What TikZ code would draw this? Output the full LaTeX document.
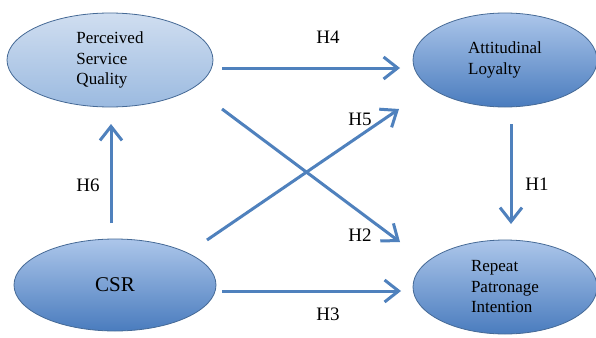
\documentclass[tikz,border=0pt]{standalone}
\usepackage{fontspec}
\setmainfont{Liberation Serif}
\usetikzlibrary{arrows.meta,shapes.geometric}
\definecolor{edgeblue}{RGB}{70,106,150}
\definecolor{linkblue}{RGB}{79,129,189}
\definecolor{paletop}{RGB}{208,222,240}
\definecolor{palebot}{RGB}{155,186,224}
\definecolor{deeptop}{RGB}{172,198,234}
\definecolor{deepbot}{RGB}{74,124,190}
\tikzset{
  construct/.style={ellipse,draw=edgeblue,line width=0.8pt,align=left,
    font=\fontsize{17}{20.5}\selectfont,inner sep=0pt},
  pale/.style={construct,top color=paletop,bottom color=palebot},
  deep/.style={construct,top color=deeptop,bottom color=deepbot},
  link/.style={draw=linkblue,line width=3pt,
    -{Straight Barb[length=14pt,width=22pt,line width=3pt]}},
  hyp/.style={font=\fontsize{19}{22}\selectfont}
}
\begin{document}
\begin{tikzpicture}[x=1pt,y=-1pt]
  \useasboundingbox[fill=white] (0,0) rectangle (596,337);
  \node[pale,minimum width=206pt,minimum height=94pt] (PSQ) at (110,60) {Perceived\\Service\\Quality};
  \node[deep,minimum width=184pt,minimum height=94pt] (AL) at (505,60) {Attitudinal\\Loyalty};
  \node[deep,minimum width=202pt,minimum height=92pt,font=\fontsize{21}{24}\selectfont] (CSR) at (115,285) {CSR};
  \node[deep,minimum width=184pt,minimum height=94pt] (RPI) at (505,287) {Repeat\\Patronage\\Intention};
  \coordinate (a1) at (222,68);  \coordinate (b1) at (400,68);
  \coordinate (a2) at (222,109); \coordinate (b2) at (400,242);
  \coordinate (a3) at (222,291); \coordinate (b3) at (401,291);
  \coordinate (a5) at (207,240); \coordinate (b5) at (399,109);
  \coordinate (a6) at (111,223); \coordinate (b6) at (111,124);
  \coordinate (a7) at (511,124); \coordinate (b7) at (511,224);
  \draw[link] (a1) -- (b1);
  \draw[link] (a2) -- (b2);
  \draw[link] (a3) -- (b3);
  \draw[link] (a5) -- (b5);
  \draw[link] (a6) -- (b6);
  \draw[link] (a7) -- (b7);
  \node[hyp] (h4) at (328,37) {H4};
  \node[hyp] (h5) at (360,119) {H5};
  \node[hyp] (h2) at (360,235) {H2};
  \node[hyp] (h3) at (328,314) {H3};
  \node[hyp] (h6) at (88,185) {H6};
  \node[hyp] (h1) at (537,184) {H1};
\end{tikzpicture}
\end{document}
